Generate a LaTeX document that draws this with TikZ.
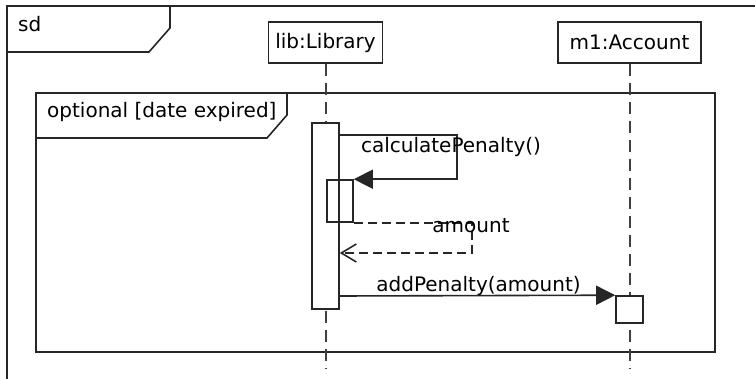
\documentclass[tikz,border=0pt]{standalone}
\usepackage{fontspec}
\setmainfont{DejaVu Sans}
\usetikzlibrary{arrows.meta,calc}

\tikzset{
  ink/.style={draw=black!85, line width=1.6pt},
  object/.style={ink, fill=white, inner sep=0pt, minimum height=41pt},
  activation/.style={ink, fill=white, inner sep=0pt},
  nestedact/.style={ink, inner sep=0pt},
  lifeline/.style={draw=black!75, line width=2pt, dash pattern=on 12pt off 7pt},
  call/.style={ink, -{Triangle[length=19pt,width=19pt]}},
  reply/.style={ink, dash pattern=on 9pt off 5pt, -{Straight Barb[length=15pt,width=18pt,line width=1.6pt]}},
  msg/.style={inner sep=0pt, anchor=base, text=black},
  frametitle/.style={inner sep=0pt, anchor=base west, text=black}
}

\begin{document}
\begin{tikzpicture}[x=1pt, y=-1pt, font=\fontsize{20}{24}\selectfont]
  \useasboundingbox (0,0) rectangle (755,379);

  % outer interaction frame (runs off the page on the right and bottom)
  \draw[ink] (7,379) -- (7,6) -- (755,6);
  \draw[ink] (7,52) -- (149,52) -- (170,28) -- (170,6);
  \node[frametitle] (sdlabel) at (18,32) {sd};

  % optional fragment
  \draw[ink] (36,93) rectangle (715,352);
  \draw[ink] (36,138) -- (267,138) -- (287,115) -- (287,93);
  \node[frametitle] (optlabel) at (47,118) {optional [date expired]};

  % lifeline heads
  \node[object, minimum width=114pt] (lib) at (325.5,42.5) {lib:Library};
  \node[object, minimum width=143pt] (acc) at (629.5,42.5) {m1:Account};

  \coordinate (libend) at (325.5,368);
  \coordinate (accend) at (629.5,368);
  \draw[lifeline] (lib.south) -- (libend);
  \draw[lifeline] (acc.south) -- (accend);

  % activations (the nested one is an outline over the outer bar)
  \node[activation, minimum width=27pt, minimum height=186pt] (libact) at (325.5,216) {};
  \node[nestedact, minimum width=26pt, minimum height=42pt] (nested) at (340,201) {};
  \node[activation, minimum width=27pt, minimum height=27pt] (accact) at (629.5,309.5) {};

  % self call
  \draw[call] ([yshift=-13pt]libact.north east) -- ++(117,0) |- (nested.north east);
  \node[msg] (calclabel) at (451,153) {calculatePenalty()};

  % return of the self call
  \draw[reply] (nested.south east) -- ++(118,0) |- ([yshift=-37pt]libact.east);
  \node[msg] (retlabel) at (471,233) {amount};

  % call to the account
  \draw[call] ([yshift=-80pt]libact.east) -- (accact.north west);
  \node[msg] (addlabel) at (478.5,292) {addPenalty(amount)};
\end{tikzpicture}
\end{document}
